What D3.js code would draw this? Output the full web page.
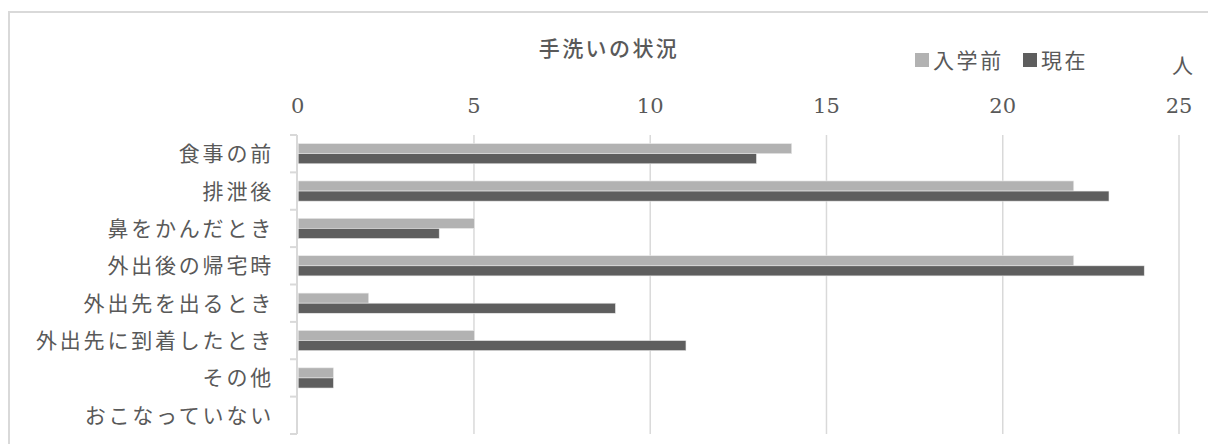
<!DOCTYPE html>
<html>
<head>
<meta charset="utf-8">
<script src="https://cdn.jsdelivr.net/npm/d3@7"></script>
<style>
  html, body { margin: 0; padding: 0; background: #fff; }
  svg { display: block; }
  .num { font-family: "DejaVu Serif", "Liberation Serif", serif; font-size: 21px; }
</style>
</head>
<body>
<svg id="chart" width="1208" height="444"></svg>
<script>
// 手洗いの状況: number of people per hand-washing occasion, before school vs now
const categories = ["食事の前", "排泄後", "鼻をかんだとき", "外出後の帰宅時", "外出先を出るとき", "外出先に到着したとき", "その他", "おこなっていない"];
const seriesNames = ["入学前", "現在"];
const beforeSchool = [14, 22, 5, 22, 2, 5, 1, 0];
const current = [13, 23, 4, 24, 9, 11, 1, 0];
const tickValues = [0, 5, 10, 15, 20, 25];
const colors = ["#b2b2b2", "#5e5e5e"];

const svg = d3.select("#chart");
const jpFont = "'Noto Sans CJK JP', 'Noto Sans', sans-serif";
const textColor = "#595959";
const gridColor = "#d9d9d9";

// Outer frame of the chart area
svg.append("rect")
  .attr("x", 9).attr("y", 12)
  .attr("width", 1215).attr("height", 460)
  .attr("fill", "none")
  .attr("stroke", gridColor)
  .attr("stroke-width", 2);

const x = d3.scaleLinear().domain([0, 25]).range([297.7, 1179]);
const y = d3.scaleBand().domain(categories).range([135, 434])
  .paddingInner(0.46).paddingOuter(0.23);
const ySub = d3.scaleBand().domain(seriesNames).range([0, y.bandwidth()]);

// Vertical gridlines
svg.append("g")
  .selectAll("line")
  .data(tickValues.filter(d => d > 0))
  .join("line")
  .attr("x1", d => x(d)).attr("x2", d => x(d))
  .attr("y1", 135).attr("y2", 434)
  .attr("stroke", gridColor)
  .attr("stroke-width", 1.5);

// Value labels along the top
svg.append("g")
  .selectAll("text")
  .data(tickValues)
  .join("text")
  .attr("class", "num")
  .attr("x", d => x(d))
  .attr("y", 113)
  .attr("text-anchor", "middle")
  .attr("fill", textColor)
  .text(d => d3.format("d")(d));

// Category axis with tick marks between bands
const yAxisX = 297;
const bounds = categories.map(c => y(c) - y.step() * y.paddingInner() / 2);
bounds[0] = 135;
bounds.push(434);
const catAxis = svg.append("g");
catAxis.append("line")
  .attr("x1", yAxisX).attr("x2", yAxisX)
  .attr("y1", 135).attr("y2", 434)
  .attr("stroke", gridColor).attr("stroke-width", 2);
catAxis.selectAll("line.tick")
  .data(bounds)
  .join("line")
  .attr("class", "tick")
  .attr("x1", 290).attr("x2", yAxisX)
  .attr("y1", d => d).attr("y2", d => d)
  .attr("stroke", gridColor).attr("stroke-width", 2);

catAxis.selectAll("text")
  .data(categories)
  .join("text")
  .attr("x", 274)
  .attr("y", d => y(d) + y.bandwidth() / 2)
  .attr("dy", "0.36em")
  .attr("text-anchor", "end")
  .style("font-family", jpFont)
  .style("font-size", "21px")
  .attr("letter-spacing", 2.8)
  .attr("fill", textColor)
  .text(d => d);

// Bars
const rows = categories.map((c, i) => ({ cat: c, values: [beforeSchool[i], current[i]] }));
svg.append("g")
  .selectAll("g")
  .data(rows)
  .join("g")
  .attr("transform", d => `translate(0,${y(d.cat)})`)
  .selectAll("rect")
  .data(d => d.values.map((v, j) => ({ name: seriesNames[j], value: v, j })))
  .join("rect")
  .attr("x", x(0) + 0.5)
  .attr("y", d => ySub(d.name))
  .attr("width", d => Math.max(0, x(d.value) - x(0)))
  .attr("height", ySub.bandwidth())
  .attr("fill", d => colors[d.j])
  .attr("stroke", "#eaeaea")
  .attr("stroke-width", d => d.value > 0 ? 0.6 : 0);

// Title
svg.append("text")
  .attr("x", 609)
  .attr("y", 56)
  .attr("text-anchor", "middle")
  .style("font-family", jpFont)
  .style("font-size", "21px")
  .style("font-weight", 500)
  .attr("letter-spacing", 2.4)
  .attr("fill", textColor)
  .text("手洗いの状況");

// Legend
const legendItems = [
  { name: seriesNames[0], color: colors[0], x: 915 },
  { name: seriesNames[1], color: colors[1], x: 1023 }
];
const legend = svg.append("g");
legend.selectAll("rect")
  .data(legendItems)
  .join("rect")
  .attr("x", d => d.x).attr("y", 53)
  .attr("width", 14).attr("height", 14)
  .attr("fill", d => d.color);
legend.selectAll("text")
  .data(legendItems)
  .join("text")
  .attr("x", d => d.x + 18)
  .attr("y", 60)
  .attr("dy", "0.36em")
  .style("font-family", jpFont)
  .style("font-size", "21px")
  .attr("letter-spacing", 2.6)
  .attr("fill", textColor)
  .text(d => d.name);

// Unit label
svg.append("text")
  .attr("x", 1193)
  .attr("y", 65)
  .attr("dy", "0.36em")
  .attr("text-anchor", "end")
  .style("font-family", jpFont)
  .style("font-size", "21px")
  .attr("fill", textColor)
  .text("人");
</script>
</body>
</html>
